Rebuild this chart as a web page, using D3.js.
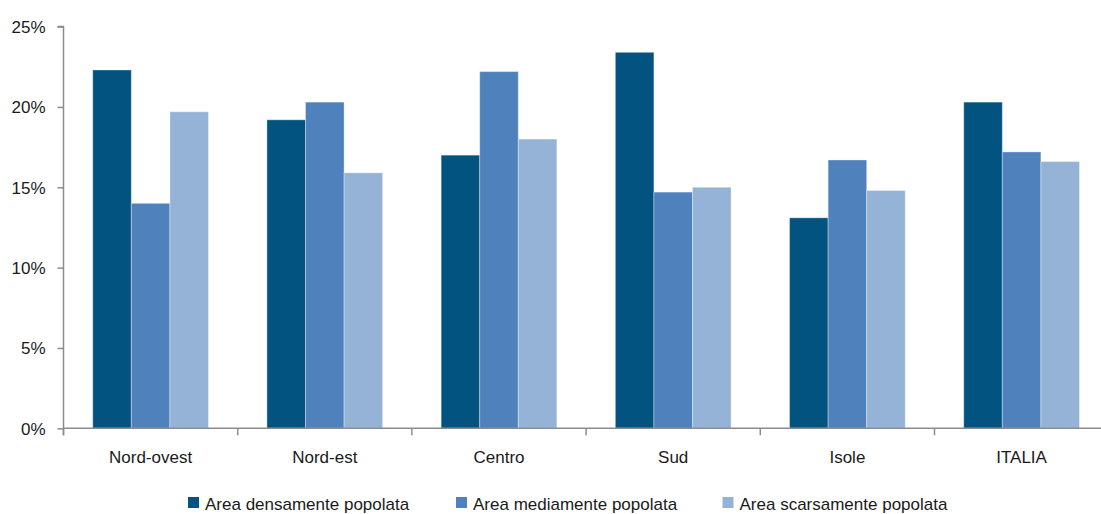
<!DOCTYPE html>
<html>
<head>
<meta charset="utf-8">
<script src="https://cdn.jsdelivr.net/npm/d3@7"></script>
<style>
  html, body { margin: 0; padding: 0; background: #ffffff; }
  svg { display: block; }
  text { font-family: "Liberation Sans", Arial, sans-serif; fill: #1a1a1a; }
</style>
</head>
<body>
<svg id="chart" width="1101" height="514"></svg>
<script>
const categories = ["Nord-ovest", "Nord-est", "Centro", "Sud", "Isole", "ITALIA"];
const seriesNames = ["Area densamente popolata", "Area mediamente popolata", "Area scarsamente popolata"];
const densamente = [22.3, 19.2, 17.0, 23.4, 13.1, 20.3];
const mediamente = [14.0, 20.3, 22.2, 14.7, 16.7, 17.2];
const scarsamente = [19.7, 15.9, 18.0, 15.0, 14.8, 16.6];
const yTicks = [0, 5, 10, 15, 20, 25];
const colors = ["#02537F", "#4F81BD", "#95B3D7"];

const seriesValues = [densamente, mediamente, scarsamente];

const svg = d3.select("#chart");

const left = 63.5, catStep = 174.2;
const x0 = d3.scaleBand()
  .domain(categories)
  .range([left, left + catStep * categories.length])
  .padding(0);

const x1 = d3.scaleBand()
  .domain(seriesNames)
  .range([0, x0.bandwidth()])
  .paddingInner(0)
  .paddingOuter(0.758);

const y = d3.scaleLinear().domain([0, 25]).range([428.3, 26.6]);

const axisColor = "#8c8c8c";

// bars
const groups = svg.append("g").selectAll("g")
  .data(categories)
  .join("g")
  .attr("transform", d => `translate(${x0(d)},0)`);

groups.selectAll("rect")
  .data((c, i) => seriesNames.map((s, j) => ({ s, j, v: seriesValues[j][i] })))
  .join("rect")
  .attr("x", d => x1(d.s))
  .attr("width", x1.bandwidth())
  .attr("y", d => y(d.v))
  .attr("height", d => y(0) - y(d.v))
  .attr("fill", d => colors[d.j])
  .attr("stroke", "rgba(255,255,255,0.35)")
  .attr("stroke-width", 1);

// y axis
const yAxis = svg.append("g")
  .attr("transform", `translate(${left},0)`)
  .call(d3.axisLeft(y).tickValues(yTicks).tickFormat(d => d + "%").tickSize(6).tickPadding(12));
yAxis.select(".domain").attr("stroke", axisColor).attr("stroke-width", 1.5)
  .attr("d", `M-6,${y(25)}H0V${y(0) + 7}`);
yAxis.selectAll(".tick line").attr("stroke", axisColor).attr("stroke-width", 1.5);
yAxis.selectAll(".tick text").attr("font-size", 17).attr("fill", "#1a1a1a")
  .attr("font-family", "'Liberation Sans', Arial, sans-serif").attr("dy", "0.35em");

// x axis
const xAxisG = svg.append("g").attr("transform", `translate(0,${y(0)})`);
xAxisG.append("path")
  .attr("d", `M${left},0H${x0.range()[1]}`)
  .attr("stroke", axisColor).attr("stroke-width", 1.5).attr("fill", "none");
const boundaries = categories.map(c => x0(c)).concat([x0.range()[1]]);
xAxisG.selectAll("line.tk")
  .data(boundaries)
  .join("line")
  .attr("class", "tk")
  .attr("x1", d => d).attr("x2", d => d)
  .attr("y1", 0).attr("y2", 7)
  .attr("stroke", axisColor).attr("stroke-width", 1.5);
xAxisG.selectAll("text")
  .data(categories)
  .join("text")
  .attr("x", d => x0(d) + x0.bandwidth() / 2)
  .attr("y", 35)
  .attr("text-anchor", "middle")
  .attr("font-size", 17)
  .text(d => d);

// legend
const legendX = [188, 456, 722.5];
const legend = svg.append("g").selectAll("g")
  .data(seriesNames)
  .join("g")
  .attr("transform", (d, i) => `translate(${legendX[i]},497)`);
legend.append("rect")
  .attr("width", 11).attr("height", 11)
  .attr("fill", (d, i) => colors[i]);
legend.append("text")
  .attr("x", 17).attr("y", 13)
  .attr("font-size", 17)
  .text(d => d);
</script>
</body>
</html>
